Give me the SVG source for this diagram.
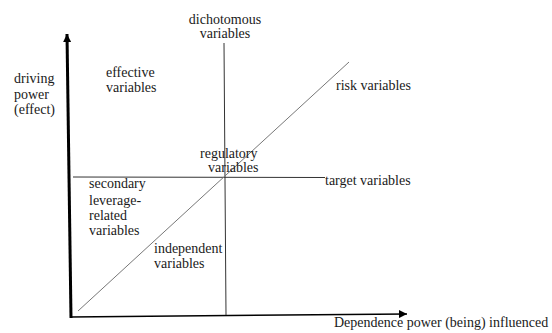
<svg xmlns="http://www.w3.org/2000/svg" width="552" height="333" viewBox="0 0 552 333">
<defs>
<style>
text{font-family:"Liberation Serif","Times New Roman",serif;font-size:14px;fill:#1a1a1a}
.ax{stroke:#000;fill:none}
.ln{stroke:#333;stroke-width:1;fill:none}
.dg{stroke:#777;stroke-width:1;fill:none}
</style>
<marker id="ah" viewBox="0 0 10 10" refX="10" refY="5" markerWidth="8" markerHeight="8" markerUnits="userSpaceOnUse" orient="auto">
<path d="M0,0L10,5L0,10Z" fill="#000"/>
</marker>
</defs>
<rect width="552" height="333" fill="#fff"/>
<g id="connectors">
<line class="ax" x1="71" y1="318" x2="67" y2="34" stroke-width="3" marker-end="url(#ah)" style="--m:1"/>
<line class="ax" x1="70" y1="317" x2="407" y2="314" stroke-width="1.5" stroke="#333" marker-end="url(#ah)"/>
<line class="ln" x1="224" y1="43" x2="226" y2="315"/>
<line class="ln" x1="73" y1="177" x2="325" y2="177.5"/>
<line class="dg" x1="78" y1="311" x2="349" y2="62"/>
</g>
<g id="driving-power"><text x="14" y="83">driving</text><text x="14" y="99">power</text><text x="14" y="114">(effect)</text></g>
<g id="dichotomous"><text x="225" y="24" text-anchor="middle">dichotomous</text><text x="225" y="38" text-anchor="middle">variables</text></g>
<g id="effective"><text x="106" y="77">effective</text><text x="106" y="92">variables</text></g>
<g id="risk"><text x="336" y="90">risk variables</text></g>
<g id="regulatory"><text x="200" y="158">regulatory</text><text x="208" y="172">variables</text></g>
<g id="target"><text x="325" y="185">target variables</text></g>
<g id="secondary"><text x="89" y="188">secondary</text><text x="89" y="205">leverage-</text><text x="89" y="220">related</text><text x="89" y="235">variables</text></g>
<g id="independent"><text x="154" y="253">independent</text><text x="154" y="268">variables</text></g>
<g id="dependence"><text x="334" y="327">Dependence power (being) influenced</text></g>
</svg>
